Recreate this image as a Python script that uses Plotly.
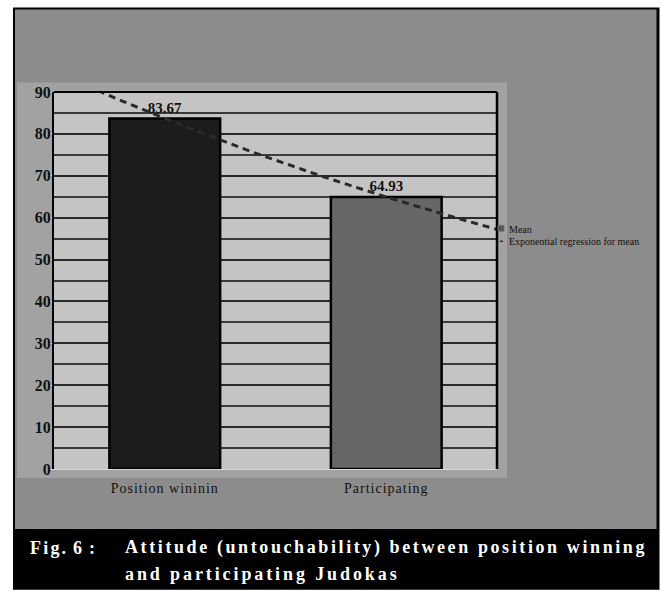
import numpy as np
import plotly.graph_objects as go

categories = ["Position wininin", "Participating"]
means = [83.67, 64.93]
bar_colors = ["#1c1c1c", "#666666"]
y_ticks = [0, 10, 20, 30, 40, 50, 60, 70, 80, 90]
legend_labels = ["Mean", "Exponential regression for mean"]
caption_label = "Fig. 6 :"
caption_line1 = "Attitude (untouchability) between position winning"
caption_line2 = "and participating Judokas"

W_PX, H_PX = 661, 591
L, R, T, B = 54, 497, 91.5, 469


def px(x):
    return (x - L) / (R - L)


def py(y):
    return (B - y) / (B - T)


def tracked(s, ls, ws=0):
    return f'<span style="letter-spacing:{ls}px;word-spacing:{ws}px">{s}</span>'


# exponential regression through the means (category index 1..n)
xi = np.arange(1, len(means) + 1)
coef = np.polyfit(xi, np.log(means), 1)
xs = np.linspace(0.5, len(means) + 0.5, 60)
ys = np.exp(np.polyval(coef, xs))

fig = go.Figure()
fig.add_trace(go.Bar(
    x=list(range(len(categories))), y=means,
    marker=dict(color=bar_colors, line=dict(color="#000000", width=2.5)),
    width=0.5,
    text=[f"{v:.2f}" for v in means], textposition="outside",
    textfont=dict(family="Liberation Serif", size=15, color="#111111", weight="bold"),
    cliponaxis=False, showlegend=False,
))
fig.add_trace(go.Scatter(
    x=xs - 1, y=ys, mode="lines",
    line=dict(color="#2a2a2a", width=3, dash="7px,5px"),
    showlegend=False,
))

shapes = []
# outer black frame (also caption band)
shapes.append(dict(type="rect", xref="paper", yref="paper", layer="below",
                   x0=px(13), x1=px(659.5), y0=py(590), y1=py(7),
                   fillcolor="#000000", line=dict(width=0)))
# grey panel
shapes.append(dict(type="rect", xref="paper", yref="paper", layer="below",
                   x0=px(15), x1=px(656.5), y0=py(529), y1=py(9),
                   fillcolor="#8c8c8c", line=dict(width=0)))
# textured chart area
shapes.append(dict(type="rect", xref="paper", yref="paper", layer="below",
                   x0=px(17), x1=px(507), y0=py(478), y1=py(82),
                   fillcolor="#a2a2a2", line=dict(width=0)))
# plot background
shapes.append(dict(type="rect", xref="paper", yref="paper", layer="below",
                   x0=0, x1=1, y0=0, y1=1,
                   fillcolor="#c4c4c4", line=dict(width=0)))
# top and right frame lines
shapes.append(dict(type="line", xref="paper", yref="paper", layer="above",
                   x0=0, x1=1, y0=1, y1=1, line=dict(color="#000000", width=2)))
shapes.append(dict(type="line", xref="paper", yref="paper", layer="above",
                   x0=1, x1=1, y0=0, y1=1, line=dict(color="#000000", width=2.5)))
# legend symbols
shapes.append(dict(type="rect", xref="paper", yref="paper", layer="above",
                   x0=px(498), x1=px(504), y0=py(231), y1=py(225),
                   fillcolor="#555555", line=dict(color="#777777", width=1)))
shapes.append(dict(type="line", xref="paper", yref="paper", layer="above",
                   x0=px(500), x1=px(503), y0=py(241), y1=py(241),
                   line=dict(color="#333333", width=1.5)))

annotations = []
annotations.append(dict(xref="paper", yref="paper", x=px(507), y=py(229),
                        xanchor="left", yanchor="middle", showarrow=False,
                        text=legend_labels[0],
                        font=dict(family="Liberation Serif", size=10, color="#111111")))
annotations.append(dict(xref="paper", yref="paper", x=px(507), y=py(241),
                        xanchor="left", yanchor="middle", showarrow=False,
                        text=legend_labels[1],
                        font=dict(family="Liberation Serif", size=10, color="#111111")))
cap_font = dict(family="Liberation Serif", size=18, color="#ffffff", weight="bold")
annotations.append(dict(xref="paper", yref="paper", x=px(28), y=py(548),
                        xanchor="left", yanchor="middle", showarrow=False,
                        text=tracked(caption_label, 2.2, -2), font=cap_font))
annotations.append(dict(xref="paper", yref="paper", x=px(123), y=py(548),
                        xanchor="left", yanchor="middle", showarrow=False,
                        text=tracked(caption_line1, 2.6), font=cap_font))
annotations.append(dict(xref="paper", yref="paper", x=px(123), y=py(574),
                        xanchor="left", yanchor="middle", showarrow=False,
                        text=tracked(caption_line2, 2.9), font=cap_font))

fig.update_layout(
    width=W_PX, height=H_PX,
    margin=dict(l=L, r=W_PX - R, t=T, b=H_PX - B, pad=0),
    paper_bgcolor="#ffffff", plot_bgcolor="rgba(0,0,0,0)",
    shapes=shapes, annotations=annotations,
    bargap=0.5, showlegend=False,
    xaxis=dict(range=[-0.5, len(categories) - 0.5], tickvals=list(range(len(categories))),
               ticktext=[tracked(c, 1.0) for c in categories], showgrid=False, zeroline=False,
               showline=True, linecolor="#d8d8d8", linewidth=1, ticks="",
               tickfont=dict(family="Liberation Serif", size=14, color="#111111"),
               ticklabelstandoff=6),
    yaxis=dict(range=[0, 90], tickvals=y_ticks, showgrid=True, gridcolor="#2a2a2a",
               gridwidth=1.5, zeroline=False, showline=True, linecolor="#000000",
               linewidth=2, ticks="outside", ticklen=2, tickcolor="#dddddd",
               tickfont=dict(family="Liberation Serif", size=16, color="#111111", weight="bold"),
               ticklabelstandoff=-4,
               minor=dict(dtick=5, showgrid=True, gridcolor="#3a3a3a", gridwidth=1.5)),
)

fig.write_html("out.html")
